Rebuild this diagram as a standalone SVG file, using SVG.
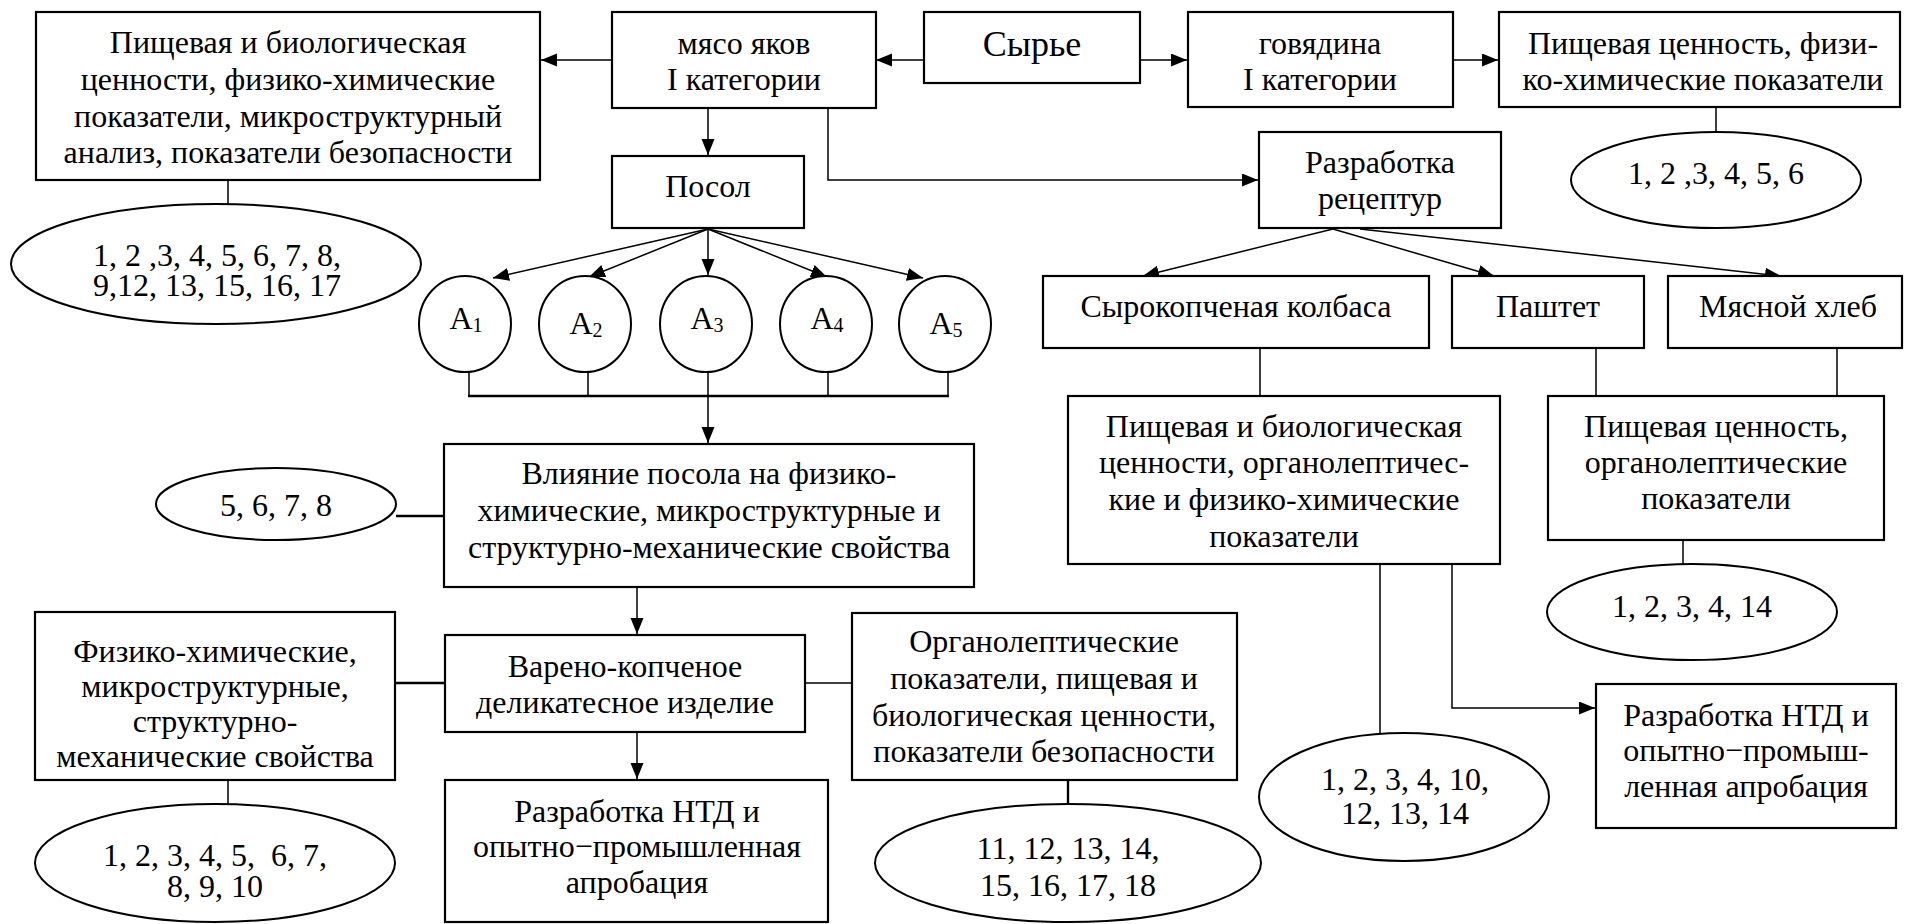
<svg xmlns="http://www.w3.org/2000/svg" width="1906" height="924" viewBox="0 0 1906 924">
<style>
.box{fill:#fff;stroke:#000;stroke-width:2.2}
.ell{fill:#fff;stroke:#000;stroke-width:2}
.t{font-family:"Liberation Serif","Times New Roman",serif;font-size:32px;text-anchor:middle;fill:#000}
.big{font-size:36px}
.sub{font-size:20px}
.ln{stroke:#000;stroke-width:1.5;fill:none}
.lb{stroke:#000;stroke-width:2.4;fill:none}
.ar{marker-end:url(#arr)}
</style>
<defs>
<marker id="arr" markerUnits="userSpaceOnUse" markerWidth="17" markerHeight="14" refX="16" refY="6.5" orient="auto" viewBox="0 0 17 14">
<path d="M0,0 L16,6.5 L0,13 z" fill="#000"/>
</marker>
</defs>
<rect width="1906" height="924" fill="#fff"/>

<g id="connectors">
<line class="ln ar" x1="612" y1="60" x2="541" y2="60"/>
<line class="ln ar" x1="924" y1="60" x2="876" y2="60"/>
<line class="ln ar" x1="1140" y1="60" x2="1187" y2="60"/>
<line class="ln ar" x1="1453" y1="60" x2="1498" y2="60"/>
<line class="ln" x1="228" y1="180" x2="228" y2="204"/>
<line class="ln" x1="1716" y1="107" x2="1716" y2="132"/>
<line class="ln ar" x1="708" y1="107" x2="708" y2="155"/>
<polyline class="ln ar" points="828,107 828,180 1258,180"/>
<line class="ln ar" x1="708" y1="229" x2="493" y2="278"/>
<line class="ln ar" x1="708" y1="229" x2="589" y2="277"/>
<line class="ln ar" x1="708" y1="229" x2="708" y2="275"/>
<line class="ln ar" x1="708" y1="229" x2="827" y2="277"/>
<line class="ln ar" x1="708" y1="229" x2="923" y2="278"/>
<line class="ln" x1="469" y1="372" x2="469" y2="396"/>
<line class="ln" x1="588" y1="372" x2="588" y2="396"/>
<line class="ln" x1="828" y1="372" x2="828" y2="396"/>
<line class="ln" x1="948" y1="372" x2="948" y2="396"/>
<line class="lb" x1="468" y1="396" x2="949" y2="396"/>
<line class="ln ar" x1="708" y1="372" x2="708" y2="443"/>
<line class="lb" x1="396" y1="516" x2="444" y2="516"/>
<line class="ln ar" x1="637" y1="587" x2="637" y2="634"/>
<line class="lb" x1="395" y1="683" x2="445" y2="683"/>
<line class="ln" x1="805" y1="683" x2="852" y2="683"/>
<line class="ln ar" x1="637" y1="732" x2="637" y2="779"/>
<line class="ln" x1="228" y1="780" x2="228" y2="804"/>
<line class="lb" x1="1068" y1="780" x2="1068" y2="804"/>
<line class="ln ar" x1="1333" y1="229" x2="1143" y2="276"/>
<line class="ln ar" x1="1333" y1="229" x2="1494" y2="276"/>
<line class="ln ar" x1="1360" y1="229" x2="1781" y2="276"/>
<line class="ln" x1="1260" y1="348" x2="1260" y2="396"/>
<line class="ln" x1="1596" y1="348" x2="1596" y2="396"/>
<line class="ln" x1="1837" y1="348" x2="1837" y2="396"/>
<line class="ln" x1="1683" y1="540" x2="1683" y2="564"/>
<line class="ln" x1="1380" y1="564" x2="1380" y2="733"/>
<polyline class="ln ar" points="1452,564 1452,708 1595,708"/>
</g>

<g id="n_tl">
<rect class="box" x="36" y="12" width="504" height="168"/>
<text class="t" x="288" y="53">Пищевая и биологическая</text>
<text class="t" x="288" y="90">ценности, физико-химические</text>
<text class="t" x="288" y="127">показатели, микроструктурный</text>
<text class="t" x="288" y="163">анализ, показатели безопасности</text>
</g>
<g id="n_ell1">
<ellipse class="ell" cx="216" cy="264" rx="205" ry="60"/>
<text class="t" x="217" y="266">1, 2 ,3, 4, 5, 6, 7, 8,</text>
<text class="t" x="217" y="296">9,12, 13, 15, 16, 17</text>
</g>
<g id="n_myaso">
<rect class="box" x="612" y="12" width="264" height="96"/>
<text class="t" x="744" y="54">мясо яков</text>
<text class="t" x="744" y="90">I категории</text>
</g>
<g id="n_syrie">
<rect class="box" x="924" y="12" width="216" height="71"/>
<text class="t big" x="1032" y="56">Сырье</text>
</g>
<g id="n_govyad">
<rect class="box" x="1188" y="12" width="265" height="95"/>
<text class="t" x="1320" y="54">говядина</text>
<text class="t" x="1320" y="90">I категории</text>
</g>
<g id="n_tr">
<rect class="box" x="1499" y="12" width="401" height="95"/>
<text class="t" x="1703" y="54">Пищевая ценность, физи-</text>
<text class="t" x="1703" y="90">ко-химические показатели</text>
</g>
<g id="n_ell2">
<ellipse class="ell" cx="1716" cy="180" rx="145" ry="48"/>
<text class="t" x="1716" y="184">1, 2 ,3, 4, 5, 6</text>
</g>
<g id="n_posol">
<rect class="box" x="612" y="156" width="192" height="72"/>
<text class="t" x="708" y="197">Посол</text>
</g>
<g id="n_razrab">
<rect class="box" x="1259" y="132" width="242" height="96"/>
<text class="t" x="1380" y="173">Разработка</text>
<text class="t" x="1380" y="209">рецептур</text>
</g>
<g id="n_a1">
<ellipse class="ell" cx="465" cy="324" rx="46" ry="48"/>
<text class="t" x="466" y="329">A<tspan class="sub" dy="3">1</tspan></text>
</g>
<g id="n_a2">
<ellipse class="ell" cx="585" cy="324" rx="46" ry="48"/>
<text class="t" x="586" y="334">A<tspan class="sub" dy="3">2</tspan></text>
</g>
<g id="n_a3">
<ellipse class="ell" cx="706" cy="324" rx="46" ry="48"/>
<text class="t" x="707" y="329">A<tspan class="sub" dy="3">3</tspan></text>
</g>
<g id="n_a4">
<ellipse class="ell" cx="826" cy="324" rx="46" ry="48"/>
<text class="t" x="827" y="329">A<tspan class="sub" dy="3">4</tspan></text>
</g>
<g id="n_a5">
<ellipse class="ell" cx="945" cy="324" rx="46" ry="48"/>
<text class="t" x="946" y="334">A<tspan class="sub" dy="3">5</tspan></text>
</g>
<g id="n_syrok">
<rect class="box" x="1043" y="276" width="386" height="72"/>
<text class="t" x="1236" y="317">Сырокопченая колбаса</text>
</g>
<g id="n_pasht">
<rect class="box" x="1452" y="276" width="192" height="72"/>
<text class="t" x="1548" y="317">Паштет</text>
</g>
<g id="n_myasn">
<rect class="box" x="1668" y="276" width="234" height="72"/>
<text class="t" x="1788" y="317">Мясной хлеб</text>
</g>
<g id="n_vliyan">
<rect class="box" x="444" y="444" width="530" height="143"/>
<text class="t" x="709" y="484">Влияние посола на физико-</text>
<text class="t" x="709" y="521">химические, микроструктурные и</text>
<text class="t" x="709" y="558">структурно-механические свойства</text>
</g>
<g id="n_ell3">
<ellipse class="ell" cx="276" cy="504" rx="120" ry="36"/>
<text class="t" x="276" y="516">5, 6, 7, 8</text>
</g>
<g id="n_pishbio">
<rect class="box" x="1068" y="396" width="432" height="168"/>
<text class="t" x="1284" y="437">Пищевая и биологическая</text>
<text class="t" x="1284" y="473">ценности, органолептичес-</text>
<text class="t" x="1284" y="510">кие и физико-химические</text>
<text class="t" x="1284" y="547">показатели</text>
</g>
<g id="n_pishorg">
<rect class="box" x="1548" y="396" width="336" height="144"/>
<text class="t" x="1716" y="437">Пищевая ценность,</text>
<text class="t" x="1716" y="473">органолептические</text>
<text class="t" x="1716" y="509">показатели</text>
</g>
<g id="n_ell4">
<ellipse class="ell" cx="1692" cy="612" rx="145" ry="48"/>
<text class="t" x="1692" y="617">1, 2, 3, 4, 14</text>
</g>
<g id="n_fiz">
<rect class="box" x="35" y="612" width="360" height="168"/>
<text class="t" x="215" y="662">Физико-химические,</text>
<text class="t" x="215" y="697">микроструктурные,</text>
<text class="t" x="215" y="732">структурно-</text>
<text class="t" x="215" y="767">механические свойства</text>
</g>
<g id="n_vareno">
<rect class="box" x="445" y="635" width="360" height="97"/>
<text class="t" x="625" y="677">Варено-копченое</text>
<text class="t" x="625" y="713">деликатесное изделие</text>
</g>
<g id="n_org">
<rect class="box" x="852" y="613" width="385" height="167"/>
<text class="t" x="1044" y="652">Органолептические</text>
<text class="t" x="1044" y="689">показатели, пищевая и</text>
<text class="t" x="1044" y="726">биологическая ценности,</text>
<text class="t" x="1044" y="762">показатели безопасности</text>
</g>
<g id="n_ell6">
<ellipse class="ell" cx="215" cy="863" rx="180" ry="59"/>
<text class="t" x="215" y="866" xml:space="preserve">1, 2, 3, 4, 5,  6, 7,</text>
<text class="t" x="215" y="897">8, 9, 10</text>
</g>
<g id="n_ntd1">
<rect class="box" x="445" y="780" width="383" height="142"/>
<text class="t" x="637" y="822">Разработка НТД и</text>
<text class="t" x="637" y="857">опытно−промышленная</text>
<text class="t" x="637" y="893">апробация</text>
</g>
<g id="n_ell7">
<ellipse class="ell" cx="1068" cy="863" rx="193" ry="59"/>
<text class="t" x="1068" y="859">11, 12, 13, 14,</text>
<text class="t" x="1068" y="896">15, 16, 17, 18</text>
</g>
<g id="n_ell5">
<ellipse class="ell" cx="1404" cy="797" rx="145" ry="64"/>
<text class="t" x="1405" y="790">1, 2, 3, 4, 10,</text>
<text class="t" x="1405" y="824">12, 13, 14</text>
</g>
<g id="n_ntd2">
<rect class="box" x="1596" y="684" width="300" height="144"/>
<text class="t" x="1746" y="726">Разработка НТД и</text>
<text class="t" x="1746" y="761">опытно−промыш-</text>
<text class="t" x="1746" y="797">ленная апробация</text>
</g>
</svg>
